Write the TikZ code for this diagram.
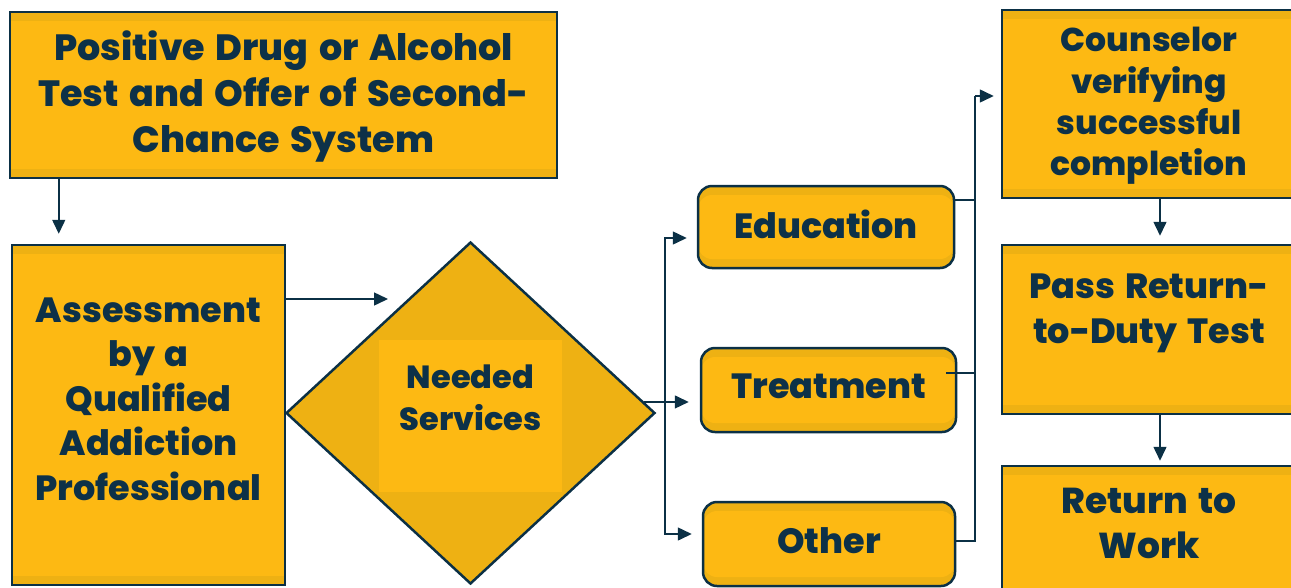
\documentclass[tikz,border=0pt]{standalone}
\usepackage{fontspec}
\setmainfont{Poppins}[BoldFont={Poppins ExtraBold}, WordSpace=1.5]
\usetikzlibrary{shapes.geometric,arrows.meta,calc}

\definecolor{boxgold}{HTML}{FDB913}
\definecolor{boxband}{HTML}{EEB113}
\definecolor{navy}{HTML}{0B3045}
\definecolor{inktext}{HTML}{0D3148}

\tikzset{
  stepbox/.style={draw=navy, line width=2.5pt, fill=boxband, inner sep=0pt,
    path picture={\fill[boxgold] ([yshift=-9pt]path picture bounding box.north west)
      rectangle ([yshift=9pt]path picture bounding box.south east);}},
  roundbox/.style={stepbox, rounded corners=14pt},
  choice/.style={diamond, draw=navy, line width=2.5pt, fill=boxband, inner sep=0pt,
    path picture={\fill[boxgold] ([shift={(-92pt,-79pt)}]path picture bounding box.center)
      rectangle ([shift={(91pt,73pt)}]path picture bounding box.center);}},
  txt/.style={text=inktext, font=\bfseries\fontsize{35}{44.5}\selectfont, align=center, inner sep=0pt},
  line/.style={draw=navy, line width=1.5pt},
  link/.style={line, -{Triangle[length=14pt,width=13pt]}}
}

\begin{document}
\begin{tikzpicture}[x=1pt, y=-1pt]
  \clip (0,0) rectangle (1291,587);

  % boxes
  \node[stepbox, minimum width=547pt, minimum height=166pt] (top) at (283.5,95) {};
  \node[stepbox, minimum width=273pt, minimum height=340pt] (ass) at (148.5,415) {};
  \node[choice, minimum width=369pt, minimum height=342pt] (need) at (470.5,413) {};
  \node[roundbox, minimum width=256pt, minimum height=82pt] (edu) at (826,227) {};
  \node[roundbox, minimum width=255pt, minimum height=84pt] (treat) at (828.5,390) {};
  \node[roundbox, minimum width=252pt, minimum height=84pt] (oth) at (829,544) {};
  \node[stepbox, minimum width=294pt, minimum height=188pt] (coun) at (1149,104) {};
  \node[stepbox, minimum width=294pt, minimum height=169pt] (pass) at (1149,329.5) {};
  \node[stepbox, minimum width=294pt, minimum height=134pt] (ret) at (1149,533) {};

  % texts
  \node[txt, font=\bfseries\fontsize{36.5}{46}\selectfont] (toptxt) at ([yshift=-1pt]top.center)
    {Positive Drug or Alcohol\\Test and Offer of Second-\\Chance System};
  \node[txt] (asstxt) at ([yshift=16pt]ass.center)
    {Assessment\\by a\\Qualified\\Addiction\\Professional};
  \node[txt, font=\bfseries\fontsize{32}{42}\selectfont] (needtxt) at ([yshift=15pt]need.center)
    {Needed\\Services};
  \node[txt] (edutxt) at ([yshift=3pt]edu.center) {Education};
  \node[txt] (treattxt) at ([yshift=4pt]treat.center) {Treatment};
  \node[txt] (othtxt) at ([yshift=3pt]oth.center) {Other};
  \node[txt, font=\bfseries\fontsize{33}{41.3}\selectfont] (countxt) at ([yshift=-2pt]coun.center)
    {Counselor\\verifying\\successful\\completion};
  \node[txt] (passtxt) at ([yshift=16pt]pass.center) {Pass Return-\\to-Duty Test};
  \node[txt, font=\bfseries\fontsize{36}{45}\selectfont] (rettxt) at ([yshift=10pt]ret.center) {Return to\\Work};

  % connectors
  \coordinate (needin) at (388,299);
  \coordinate (needout) at ($(need.east)!0.064!(need.north)$);
  \coordinate (fork) at (665,0);
  \coordinate (bus) at (975,96);

  \draw[link, shorten >=10pt] ([xshift=50pt]top.south west) -- ([xshift=50pt]top.south west |- ass.north);
  \draw[link] (ass.east |- needin) -- (needin);
  \draw[line] (needout) -- (fork |- needout);
  \draw[link, shorten >=11pt] (fork |- needout) -- (needout -| treat.west);
  \draw[link, shorten >=10pt] (fork |- needout) |- ([yshift=-11pt]edu.west);
  \draw[link, shorten >=10pt] (fork |- needout) |- ([yshift=10pt]oth.west);

  \draw[line] ([yshift=27pt]edu.east) -| (bus);
  \draw[line] ([xshift=-11pt, yshift=17pt]treat.east) -| (bus);
  \draw[line] ([yshift=3pt]oth.east) -| (bus);
  \draw[link, shorten >=7pt] (bus) -- (bus -| coun.west);

  \draw[link, shorten >=8pt] ([xshift=11pt]coun.south) -- ([xshift=11pt]pass.north);
  \draw[link, shorten >=4pt] ([xshift=11pt]pass.south) -- ([xshift=11pt]ret.north);
\end{tikzpicture}
\end{document}
